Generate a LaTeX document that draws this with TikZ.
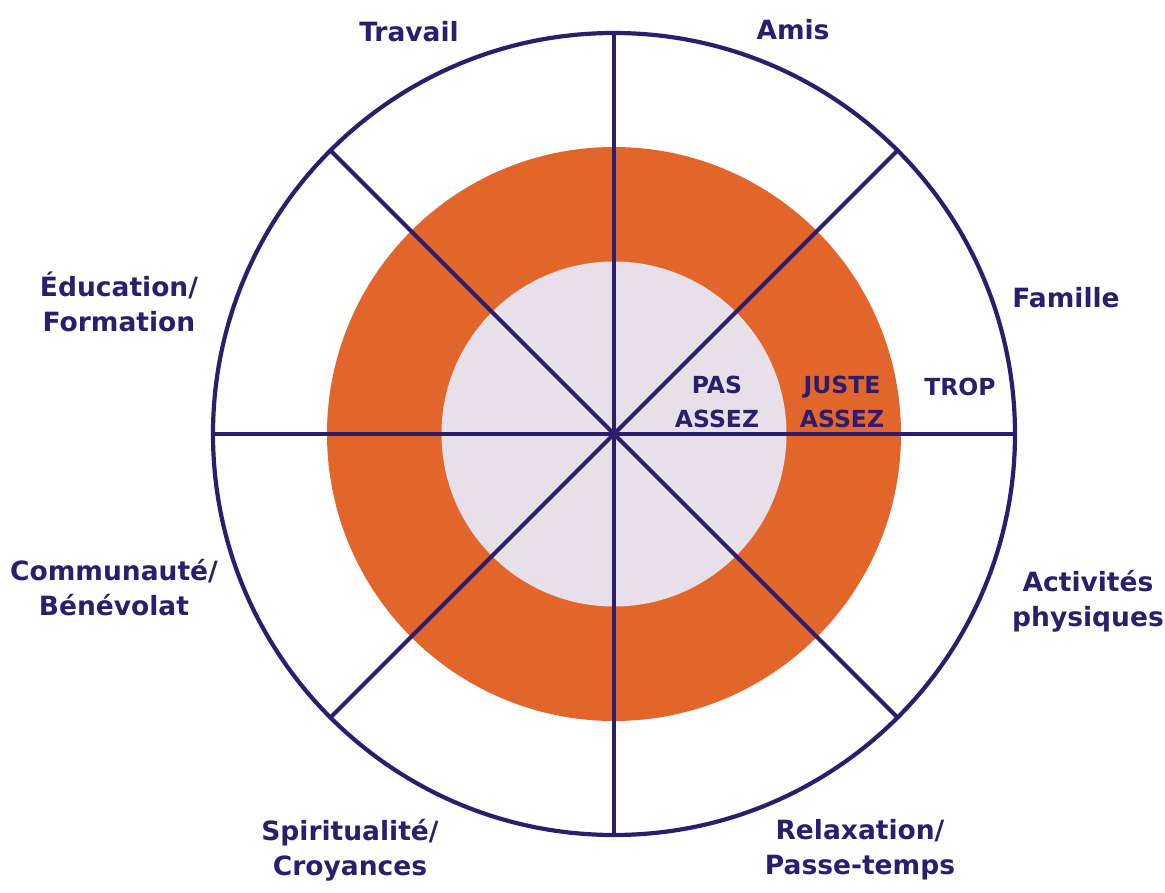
\documentclass[tikz,border=0pt]{standalone}
\usepackage{fontspec}
\setmainfont{DejaVu Sans}
\begin{document}
\begin{tikzpicture}[x=1pt,y=1pt,
  rim/.style={draw=inkColor,line width=4.2pt},
  outerlabel/.style={text=inkColor,font=\bfseries\fontsize{26.5}{35}\selectfont,align=center,inner sep=0pt,outer sep=0pt},
  ringlabel/.style={text=inkColor,font=\bfseries\fontsize{23.5}{34}\selectfont,align=center,inner sep=0pt,outer sep=0pt}]
\definecolor{inkColor}{RGB}{44,30,108}
\definecolor{ringColor}{RGB}{226,102,44}
\definecolor{coreColor}{RGB}{232,224,232}
\path[use as bounding box,fill=white] (-614,-458) rectangle (551,434);

% target rings
\coordinate (ctr) at (0,0);
\path[fill=ringColor] (ctr) circle (287);
\path[fill=coreColor] (ctr) circle (172.5);

% spokes and rim
\foreach \ang in {0,45,...,315}
  \draw[rim] (ctr) -- (\ang:401);
\draw[rim] (ctr) circle (401);

% sector names
\node[outerlabel,anchor=base] (travail) at (-205,392) {Travail};
\node[outerlabel,anchor=base] (amis) at (179,394) {Amis};
\node[outerlabel,anchor=base] (famille) at (452,127) {Famille};
\node[outerlabel] (education) at (-495,132) {Éducation/\\Formation};
\node[outerlabel] (communaute) at (-500,-154) {Communauté/\\Bénévolat};
\node[outerlabel] (activites) at (474,-167) {Activités\\physiques};
\node[outerlabel] (spiritualite) at (-264,-416) {Spiritualité/\\Croyances};
\node[outerlabel] (relaxation) at (246,-416) {Relaxation/\\Passe-temps};

% ring names
\node[ringlabel] (pasassez) at (103,32) {PAS\\ASSEZ};
\node[ringlabel] (justeassez) at (228,32) {JUSTE\\ASSEZ};
\node[ringlabel,anchor=base] (trop) at (346,39) {TROP};
\end{tikzpicture}
\end{document}
